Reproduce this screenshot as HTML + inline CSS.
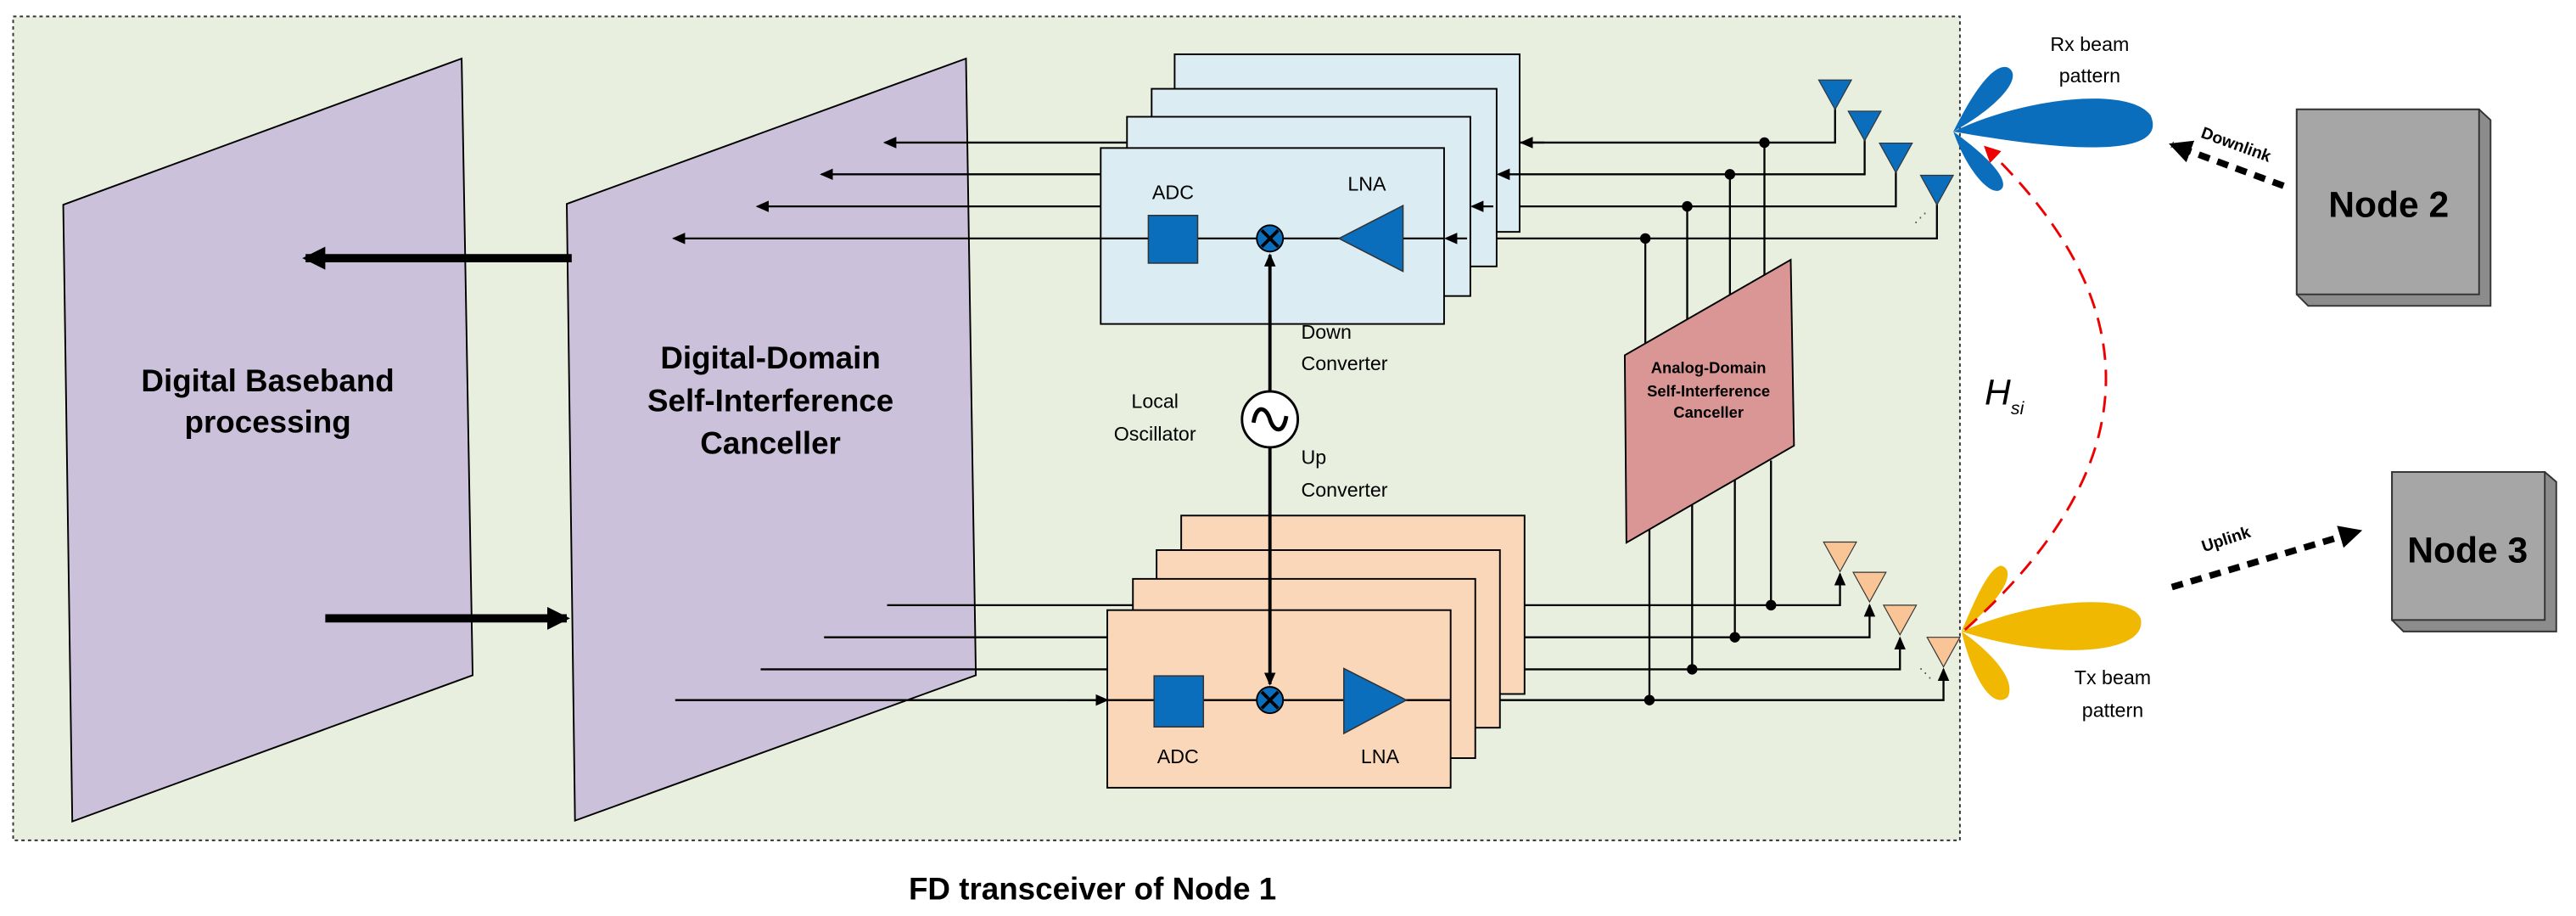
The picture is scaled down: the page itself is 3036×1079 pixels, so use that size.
<!DOCTYPE html>
<html><head><meta charset="utf-8"><style>
html,body{margin:0;padding:0;background:#fff;}
svg{display:block;}
text{font-family:"Liberation Sans",sans-serif;}
</style></head><body>
<svg width="3036" height="1079" viewBox="0 0 1568 557" preserveAspectRatio="none" xmlns="http://www.w3.org/2000/svg">
<defs>
<marker id="ah" markerWidth="8" markerHeight="8" refX="7" refY="4" orient="auto" markerUnits="userSpaceOnUse"><path d="M0,0.5 L8,4 L0,7.5 Z" fill="#000"/></marker>
<marker id="ahb" markerWidth="14" markerHeight="14" refX="12" refY="7" orient="auto" markerUnits="userSpaceOnUse"><path d="M0,0 L14,7 L0,14 Z" fill="#000"/></marker>
<marker id="ahr" markerWidth="10" markerHeight="10" refX="8" refY="5" orient="auto" markerUnits="userSpaceOnUse"><path d="M0,0 L10,5 L0,10 Z" fill="#e00"/></marker>
</defs>
<rect x="8" y="10" width="1185" height="501" fill="#e9efdf" stroke="#333" stroke-width="1" stroke-dasharray="2,2"/>
<!-- parallelograms -->
<polygon points="38.5,124.5 281,35.6 287.7,410.6 44,499.5" fill="#ccc1da" stroke="#000" stroke-width="1"/>
<polygon points="345,124 588,35.6 594,410.6 350,499" fill="#ccc1da" stroke="#000" stroke-width="1"/>
<text x="163" y="238" font-size="19" font-weight="bold" text-anchor="middle">Digital Baseband</text>
<text x="163" y="263" font-size="19" font-weight="bold" text-anchor="middle">processing</text>
<text x="469" y="224" font-size="19" font-weight="bold" text-anchor="middle">Digital-Domain</text>
<text x="469" y="250" font-size="19" font-weight="bold" text-anchor="middle">Self-Interference</text>
<text x="469" y="276" font-size="19" font-weight="bold" text-anchor="middle">Canceller</text>
<line x1="348" y1="157" x2="186" y2="157" stroke="#000" stroke-width="5" marker-end="url(#ahb)"/>
<line x1="198" y1="376" x2="345" y2="376" stroke="#000" stroke-width="5" marker-end="url(#ahb)"/>
<g stroke="#000" stroke-width="1.2" fill="none">
<!-- Rx lines -->
<polyline points="1117,66 1117,86.7 538.6,86.7" marker-end="url(#ah)"/>
<polyline points="1135,85 1135,106 500,106" marker-end="url(#ah)"/>
<polyline points="1154,104 1154,125.5 461,125.5" marker-end="url(#ah)"/>
<polyline points="1179,124 1179,145 410,145" marker-end="url(#ah)"/>
<!-- Tx lines -->
<polyline points="540,368 1120,368 1120,349" marker-end="url(#ah)"/>
<polyline points="501.6,387.5 1138,387.5 1138,368" marker-end="url(#ah)"/>
<polyline points="463,407 1156.5,407 1156.5,388" marker-end="url(#ah)"/>
<polyline points="411,425.7 1183,425.7 1183,407" marker-end="url(#ah)"/>
</g>
<!-- Rx boxes -->
<g stroke="#000" stroke-width="1" fill="#dbecf2">
<rect x="715" y="33" width="210" height="108"/>
<rect x="701" y="54" width="210" height="108"/>
<rect x="686" y="71" width="209" height="109"/>
<rect x="670" y="90" width="209" height="107"/>
</g>
<g stroke="#000" stroke-width="1.2">
<line x1="940" y1="86.7" x2="926" y2="86.7" marker-end="url(#ah)"/>
<line x1="925" y1="106" x2="912" y2="106" marker-end="url(#ah)"/>
<line x1="909" y1="125.5" x2="896" y2="125.5" marker-end="url(#ah)"/>
<line x1="893" y1="145" x2="880" y2="145" marker-end="url(#ah)"/>
<line x1="879" y1="145" x2="670" y2="145"/>
</g>
<!-- Tx boxes -->
<g stroke="#000" stroke-width="1" fill="#fad7b9">
<rect x="719" y="313.5" width="209" height="108.5"/>
<rect x="704" y="334.5" width="209" height="108"/>
<rect x="689.6" y="352" width="208.4" height="109"/>
<rect x="674" y="371" width="209" height="108"/>
</g>
<g stroke="#000" stroke-width="1.2">
<line x1="650" y1="425.7" x2="674" y2="425.7" marker-end="url(#ah)"/>
<line x1="674" y1="425.7" x2="883" y2="425.7"/>
</g>
<!-- Rx internals -->
<rect x="699" y="131" width="30" height="29" fill="#0a6ebd" stroke="#333" stroke-width="0.8"/>
<text x="714" y="121" font-size="12" text-anchor="middle">ADC</text>
<polygon points="815,145 854,125 854,165" fill="#0a6ebd" stroke="#333" stroke-width="0.8"/>
<text x="832" y="116" font-size="12" text-anchor="middle">LNA</text>
<!-- Tx internals -->
<rect x="702.5" y="411" width="30" height="31" fill="#0a6ebd" stroke="#333" stroke-width="0.8"/>
<text x="717" y="464" font-size="12" text-anchor="middle">ADC</text>
<polygon points="818,406.5 856,425.7 818,446" fill="#0a6ebd" stroke="#333" stroke-width="0.8"/>
<text x="840" y="464" font-size="12" text-anchor="middle">LNA</text>
<!-- LO -->
<line x1="773" y1="238" x2="773" y2="155" stroke="#000" stroke-width="2" marker-end="url(#ah)"/>
<line x1="773" y1="272" x2="773" y2="416" stroke="#000" stroke-width="2" marker-end="url(#ah)"/>
<circle cx="773" cy="255" r="17" fill="#fff" stroke="#000" stroke-width="1.5"/>
<path d="M763,257 C765,245 771,248 773,255 C775,262 781,265 783,253" fill="none" stroke="#000" stroke-width="2.5"/>
<g>
<circle cx="773" cy="145" r="8" fill="#0a6ebd" stroke="#000" stroke-width="1"/>
<path d="M768,140 L778,150 M778,140 L768,150" stroke="#000" stroke-width="2"/>
<circle cx="773" cy="425.7" r="8" fill="#0a6ebd" stroke="#000" stroke-width="1"/>
<path d="M768,420.7 L778,430.7 M778,420.7 L768,430.7" stroke="#000" stroke-width="2"/>
</g>
<text x="703" y="248" font-size="12" text-anchor="middle">Local</text>
<text x="703" y="268" font-size="12" text-anchor="middle">Oscillator</text>
<text x="792" y="206" font-size="12" font-family="Liberation Mono">Down</text>
<text x="792" y="225" font-size="12" font-family="Liberation Mono">Converter</text>
<text x="792" y="282" font-size="12" font-family="Liberation Mono">Up</text>
<text x="792" y="302" font-size="12" font-family="Liberation Mono">Converter</text>
<!-- analog canceller verticals -->
<g stroke="#000" stroke-width="1.2">
<line x1="1074" y1="86.7" x2="1074" y2="168"/>
<line x1="1053" y1="106" x2="1053" y2="180"/>
<line x1="1027" y1="125.5" x2="1027" y2="195"/>
<line x1="1001.5" y1="145" x2="1001.5" y2="209"/>
<line x1="1078" y1="280" x2="1078" y2="368"/>
<line x1="1056" y1="292" x2="1056" y2="387.5"/>
<line x1="1030" y1="307" x2="1030" y2="407"/>
<line x1="1004" y1="322" x2="1004" y2="425.7"/>
</g>
<g fill="#000">
<circle cx="1074" cy="86.7" r="3.2"/><circle cx="1053" cy="106" r="3.2"/><circle cx="1027" cy="125.5" r="3.2"/><circle cx="1001.5" cy="145" r="3.2"/>
<circle cx="1078" cy="368" r="3.2"/><circle cx="1056" cy="387.5" r="3.2"/><circle cx="1030" cy="407" r="3.2"/><circle cx="1004" cy="425.7" r="3.2"/>
</g>
<polygon points="989,216 1090,158 1092,271 990,330" fill="#d99694" stroke="#000" stroke-width="1"/>
<text x="1040" y="227" font-size="9.5" font-weight="bold" text-anchor="middle">Analog-Domain</text>
<text x="1040" y="241" font-size="9.5" font-weight="bold" text-anchor="middle">Self-Interference</text>
<text x="1040" y="254" font-size="9.5" font-weight="bold" text-anchor="middle">Canceller</text>
<!-- antennas -->
<g fill="#0a6ebd" stroke="#333" stroke-width="0.6">
<polygon points="1107,48.6 1127,48.6 1117,66.6"/>
<polygon points="1125,67.6 1145,67.6 1135,85.6"/>
<polygon points="1144,87 1164,87 1154,105"/>
<polygon points="1169,106.6 1189,106.6 1179,124.6"/>
</g>
<g fill="#f9c597" stroke="#333" stroke-width="0.6">
<polygon points="1110,329.6 1130,329.6 1120,347.6"/>
<polygon points="1128,348 1148,348 1138,366"/>
<polygon points="1146.5,368 1166.5,368 1156.5,386"/>
<polygon points="1173,387.5 1193,387.5 1183,405.5"/>
</g>
<text x="1165" y="135" font-size="8" fill="#555">⋰</text>
<text x="1168" y="412" font-size="8" fill="#555">⋱</text>
<!-- beams -->
<g fill="#0a6ebd">
<path d="M1189,80 C1230,60 1295,52 1309,70 C1318,90 1285,97 1189,80Z"/>
<path d="M1189,80 C1198,62 1212,38 1222,41 C1232,46 1218,64 1189,80Z"/>
<path d="M1189,80 C1203,90 1222,106 1219,114 C1214,122 1198,106 1189,80Z"/>
</g>
<g fill="#f0b800">
<path d="M1194,384 C1240,364 1296,360 1303,376 C1308,398 1250,402 1194,384Z"/>
<path d="M1194,384 C1200,370 1210,345 1218,344 C1227,346 1222,362 1194,384Z"/>
<path d="M1194,384 C1210,395 1228,413 1222,424 C1212,432 1200,410 1194,384Z"/>
</g>
<path d="M1196,383 Q1361,236 1209,90" fill="none" stroke="#e00" stroke-width="1.5" stroke-dasharray="10,6" marker-end="url(#ahr)"/>
<text x="1208" y="246" font-size="22" font-style="italic" font-family="Liberation Serif">H</text>
<text x="1224" y="252" font-size="11" font-style="italic" font-family="Liberation Serif">si</text>
<text x="1272" y="31" font-size="12" text-anchor="middle">Rx beam</text>
<text x="1272" y="50" font-size="12" text-anchor="middle">pattern</text>
<text x="1286" y="416" font-size="12" text-anchor="middle">Tx beam</text>
<text x="1286" y="436" font-size="12" text-anchor="middle">pattern</text>
<!-- nodes -->
<g stroke="#333" stroke-width="1">
<polygon points="1398,66.5 1509,66.5 1516,73 1516,186 1405,186 1398,179" fill="#8c8c8c"/>
<rect x="1398" y="66.5" width="111" height="112.5" fill="#a6a6a6"/>
<polygon points="1456,287 1549,287 1556,293 1556,384 1463,384 1456,377" fill="#8c8c8c"/>
<rect x="1456" y="287" width="93" height="90" fill="#a6a6a6"/>
</g>
<text x="1454" y="132" font-size="22" font-weight="bold" text-anchor="middle">Node 2</text>
<text x="1502" y="342" font-size="22" font-weight="bold" text-anchor="middle">Node 3</text>
<line x1="1390" y1="113" x2="1322" y2="88" stroke="#000" stroke-width="4" stroke-dasharray="7,5" marker-end="url(#ahb)"/>
<text x="1360" y="91" font-size="10" font-weight="bold" text-anchor="middle" transform="rotate(20 1360 91)">Downlink</text>
<line x1="1322" y1="357" x2="1436" y2="323" stroke="#000" stroke-width="4" stroke-dasharray="7,5" marker-end="url(#ahb)"/>
<text x="1356" y="331" font-size="10" font-weight="bold" text-anchor="middle" transform="rotate(-18 1356 331)">Uplink</text>
<text x="665" y="547" font-size="19" font-weight="bold" text-anchor="middle">FD transceiver of  Node 1</text>
</svg>
</body></html>
